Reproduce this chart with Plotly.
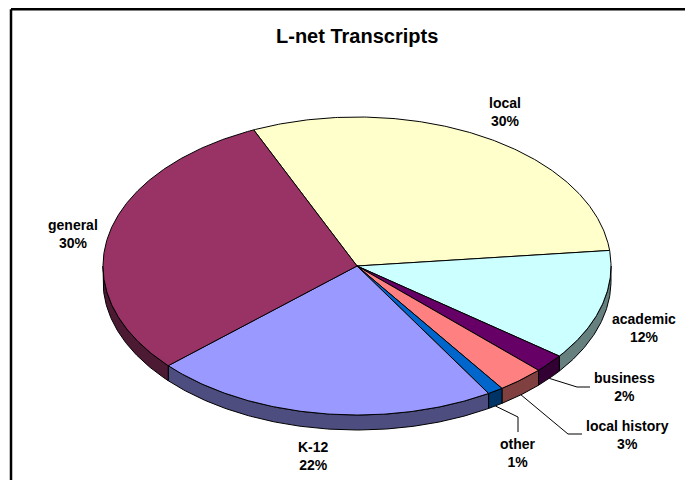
import numpy as np
import plotly.graph_objects as go

# ---------------- data ----------------
categories = ["local", "academic", "business", "local history", "other", "K-12", "general"]
values = [30, 12, 2, 3, 1, 22, 30]
top_colors = ["#FFFFCC", "#CCFFFF", "#660066", "#FF8080", "#0066CC", "#9999FF", "#993366"]
side_colors = ["#808066", "#668080", "#330033", "#804040", "#003366", "#4D4D80", "#4D1A33"]
title_text = "L-net Transcripts"

# ---------------- layout geometry (page pixels) ----------------
PAGE_W, PAGE_H = 693, 488
PAGE_OFF = 8  # default body margin of the html page
W, H = PAGE_W - PAGE_OFF, PAGE_H - 2 * PAGE_OFF  # figure size that fits without scrollbars
CX, CY, RX, RY, DEPTH = 357, 266, 254, 149, 15
START = -24.0  # degrees clockwise from 12 o'clock where first slice begins

label_pos = {
    "local": (505, 112),
    "academic": (644, 328),
    "business": (624, 387),
    "local history": (627, 435),
    "other": (518, 453),
    "K-12": (313, 456),
    "general": (73, 234),
}
leader_path = {
    "business": [(577, 387), (590, 387)],
    "local history": [(568, 434), (582, 434)],
    "other": [(518, 417), (518, 432)],
}


def pt(theta_deg, dy=0.0):
    t = np.radians(theta_deg)
    return CX + RX * np.sin(t), CY - RY * np.cos(t) + dy


total = float(sum(values))
bounds = [START]
for v in values:
    bounds.append(bounds[-1] + 360.0 * v / total)

fig = go.Figure()

# side (rim) of the 3D pie: visible front half, 90..270 degrees
for i, cat in enumerate(categories):
    a0, a1 = bounds[i], bounds[i + 1]
    segs = []
    for base in (0.0, 360.0):
        lo, hi = max(a0, 90.0 + base), min(a1, 270.0 + base)
        if hi > lo:
            segs.append((lo, hi))
    for (s0, s1) in segs:
        n = max(4, int((s1 - s0) * 2))
        th = np.linspace(s0, s1, n)
        xt, yt = pt(th)
        xb, yb = pt(th[::-1], DEPTH)
        xs = np.concatenate([xt, xb, xt[:1]])
        ys = np.concatenate([yt, yb, yt[:1]])
        fig.add_trace(go.Scatter(
            x=xs, y=ys, mode="lines", fill="toself",
            fillcolor=side_colors[i], line=dict(color="black", width=1),
            hoverinfo="skip", showlegend=False))

# top faces
for i, cat in enumerate(categories):
    a0, a1 = bounds[i], bounds[i + 1]
    n = max(4, int((a1 - a0) * 2))
    th = np.linspace(a0, a1, n)
    xa, ya = pt(th)
    xs = np.concatenate([[CX], xa, [CX]])
    ys = np.concatenate([[CY], ya, [CY]])
    fig.add_trace(go.Scatter(
        x=xs, y=ys, mode="lines", fill="toself",
        fillcolor=top_colors[i], line=dict(color="black", width=1),
        name=cat, text=f"{cat}: {values[i]}%", hoverinfo="text",
        showlegend=False))

# leader lines
for i, cat in enumerate(categories):
    if cat in leader_path:
        mid = (bounds[i] + bounds[i + 1]) / 2.0
        sx, sy = pt(mid, DEPTH)
        px = [sx] + [p[0] for p in leader_path[cat]]
        py = [sy] + [p[1] for p in leader_path[cat]]
        fig.add_trace(go.Scatter(
            x=px, y=py, mode="lines", line=dict(color="black", width=1),
            hoverinfo="skip", showlegend=False))

annotations = []
for i, cat in enumerate(categories):
    lx, ly = label_pos[cat]
    pct = round(100.0 * values[i] / total)
    annotations.append(dict(
        x=lx, y=ly, xref="x", yref="y", showarrow=False,
        text=f"<b>{cat}<br>{pct}%</b>", align="center",
        xanchor="center", yanchor="middle",
        font=dict(family="Liberation Sans, Arial, sans-serif", size=14, color="black")))

annotations.append(dict(
    x=357, y=36, xref="x", yref="y", showarrow=False,
    text=f"<b>{title_text}</b>", xanchor="center", yanchor="middle",
    font=dict(family="Liberation Sans, Arial, sans-serif", size=20, color="black")))

frame = dict(color="black", width=2.5)
fig.update_layout(
    width=W, height=H, autosize=False,
    margin=dict(l=0, r=0, t=0, b=0),
    paper_bgcolor="white", plot_bgcolor="white",
    xaxis=dict(range=[PAGE_OFF, PAGE_OFF + W], visible=False, fixedrange=True),
    yaxis=dict(range=[PAGE_OFF + H, PAGE_OFF], visible=False, fixedrange=True),
    annotations=annotations,
    shapes=[
        dict(type="line", xref="x", yref="y", x0=11, y0=9.3, x1=PAGE_OFF + W, y1=9.3, line=frame),
        dict(type="line", xref="x", yref="y", x0=11, y0=9.3, x1=11, y1=PAGE_OFF + H, line=frame),
    ],
    showlegend=False,
)

fig.write_html("out.html")
